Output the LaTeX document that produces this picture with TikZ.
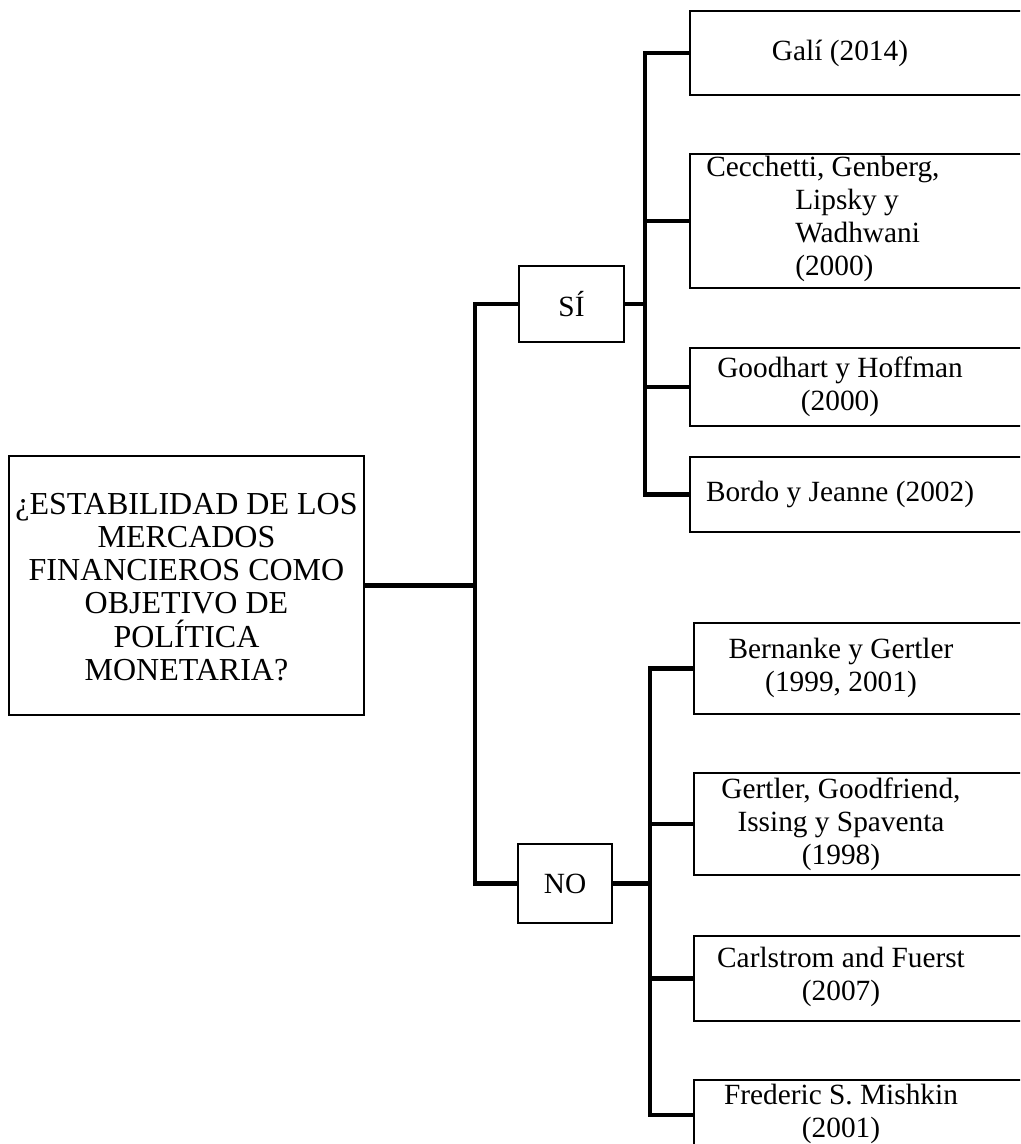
\documentclass[tikz,border=0pt]{standalone}
\usepackage{fontspec}
\setmainfont{Liberation Serif}
\begin{document}
\begin{tikzpicture}[x=0.75pt,y=-0.75pt,
  refbox/.style={draw=black,line width=1.3pt,rectangle,inner sep=0pt,anchor=north west},
  answer/.style={draw=black,line width=1.3pt,rectangle,inner sep=0pt},
  conn/.style={draw=black,line width=3.5pt,line join=miter},
  txt/.style={inner sep=0pt,align=center,font=\fontsize{22}{24.8}\selectfont},
  bigtxt/.style={inner sep=0pt,align=center,font=\fontsize{24}{24.9}\selectfont}]
\useasboundingbox (0,0) rectangle (1020,1144);
\fill[white] (0,0) rectangle (1020,1144);
\clip (0,0) rectangle (1020,1144);

% question
\node[answer,minimum width=355*0.75pt,minimum height=259*0.75pt] (main) at (186.5,585.5) {};
\node[bigtxt] (main-t) at (186.5,587) {¿ESTABILIDAD DE LOS\\MERCADOS\\FINANCIEROS COMO\\OBJETIVO DE\\POLÍTICA\\MONETARIA?};

% yes / no
\node[answer,minimum width=105*0.75pt,minimum height=76*0.75pt] (si) at (571.5,304) {};
\node[txt] (si-t) at (571.5,304) {SÍ};
\node[answer,minimum width=94*0.75pt,minimum height=79*0.75pt] (no) at (565,883.5) {};
\node[txt] (no-t) at (565,884) {NO};

% references supporting the objective
\node[refbox,minimum width=360*0.75pt,minimum height=84*0.75pt] (gali) at (689,10) {};
\node[txt] (gali-t) at (840,53) {Galí (2014)};
\node[refbox,minimum width=360*0.75pt,minimum height=134*0.75pt] (cecc) at (689,153) {};
\node[txt,align=left,anchor=west] (cecc-t) at (706,219) {Cecchetti, Genberg,\\\hspace*{66.75pt}Lipsky y\\\hspace*{66.75pt}Wadhwani\\\hspace*{66.75pt}(2000)};
\node[refbox,minimum width=360*0.75pt,minimum height=78*0.75pt] (good) at (689,347) {};
\node[txt] (good-t) at (840,387) {Goodhart y Hoffman\\(2000)};
\node[refbox,minimum width=360*0.75pt,minimum height=75*0.75pt] (bordo) at (689,456) {};
\node[txt] (bordo-t) at (840,494) {Bordo y Jeanne (2002)};

% references against the objective
\node[refbox,minimum width=360*0.75pt,minimum height=91*0.75pt] (bern) at (693,622) {};
\node[txt] (bern-t) at (841,668) {Bernanke y Gertler\\(1999, 2001)};
\node[refbox,minimum width=360*0.75pt,minimum height=102*0.75pt] (gert) at (693,772) {};
\node[txt] (gert-t) at (841,824) {Gertler, Goodfriend,\\Issing y Spaventa\\(1998)};
\node[refbox,minimum width=360*0.75pt,minimum height=85*0.75pt] (carl) at (693,935) {};
\node[txt] (carl-t) at (841,977) {Carlstrom and Fuerst\\(2007)};
\node[refbox,minimum width=360*0.75pt,minimum height=70*0.75pt] (mish) at (693,1079) {};
\node[txt] (mish-t) at (841,1114) {Frederic S. Mishkin\\(2001)};

% bus lines
\coordinate (tr) at (475,0);
\coordinate (bsi) at (645,0);
\coordinate (bno) at (650,0);

\draw[conn] (si.west) -- (si.west -| tr) -- (no.west -| tr) -- (no.west);
\draw[conn] (main.east) -- (main.east -| tr);

\draw[conn] (si.east) -- (si.east -| bsi);
\draw[conn] (gali.west) -- (gali.west -| bsi) -- (bordo.west -| bsi) -- (bordo.west);
\draw[conn] (cecc.west) -- (cecc.west -| bsi);
\draw[conn] (good.west) -- (good.west -| bsi);

\draw[conn] (no.east) -- (no.east -| bno);
\draw[conn] (bern.west) -- (bern.west -| bno) -- (mish.west -| bno) -- (mish.west);
\draw[conn] (gert.west) -- (gert.west -| bno);
\draw[conn] (carl.west) -- (carl.west -| bno);
\end{tikzpicture}
\end{document}
